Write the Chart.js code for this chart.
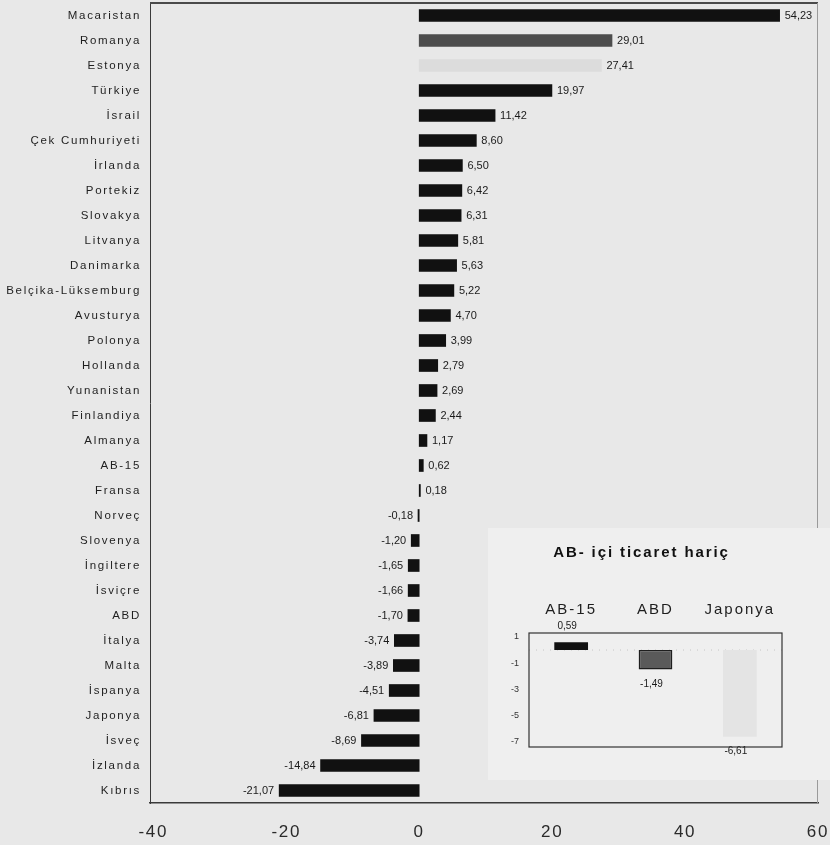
<!DOCTYPE html>
<html>
<head>
<meta charset="utf-8">
<script src="https://cdn.jsdelivr.net/npm/chart.js@4/dist/chart.umd.min.js"></script>
<style>
  body { margin: 0; background: #e8e8e8; }
  #wrap { position: relative; width: 830px; height: 845px; }
  #mainChart { position: absolute; left: 0; top: 0; }
  #insetChart { position: absolute; left: 488px; top: 528px; background: #efefef; }
</style>
</head>
<body>
<div id="wrap">
  <canvas id="mainChart" width="830" height="845"></canvas>
  <canvas id="insetChart" width="342" height="252"></canvas>
</div>
<script>
// ülkeler ve değişim oranları (%)
var ulkeler = ["Macaristan", "Romanya", "Estonya", "Türkiye", "İsrail", "Çek Cumhuriyeti", "İrlanda",
  "Portekiz", "Slovakya", "Litvanya", "Danimarka", "Belçika-Lüksemburg", "Avusturya", "Polonya",
  "Hollanda", "Yunanistan", "Finlandiya", "Almanya", "AB-15", "Fransa", "Norveç", "Slovenya",
  "İngiltere", "İsviçre", "ABD", "İtalya", "Malta", "İspanya", "Japonya", "İsveç", "İzlanda", "Kıbrıs"];
var degerler = [54.23, 29.01, 27.41, 19.97, 11.42, 8.60, 6.50, 6.42, 6.31, 5.81, 5.63, 5.22, 4.70, 3.99,
  2.79, 2.69, 2.44, 1.17, 0.62, 0.18, -0.18, -1.20, -1.65, -1.66, -1.70, -3.74, -3.89, -4.51,
  -6.81, -8.69, -14.84, -21.07];
var xTikler = [-40, -20, 0, 20, 40, 60];
var renkler = ulkeler.map(function (u) {
  if (u === "Romanya") return "#4d4d4d";
  if (u === "Estonya") return "#dcdcdc";
  return "#111111";
});

// AB-içi ticaret hariç
var icBaslik = "AB- içi ticaret hariç";
var icKategoriler = ["AB-15", "ABD", "Japonya"];
var icDegerler = [0.59, -1.49, -6.61];
var icRenkler = ["#111111", "#5a5a5a", "#e4e4e4"];
var icTikler = [1, -1, -3, -5, -7];

var yaziTipi = "'Liberation Sans', Arial, sans-serif";

function virgul(v) {
  return v.toFixed(2).replace(".", ",");
}

// harf aralığı: eksen yazıları geniş aralıklı
var harfAraligi = {
  id: "harfAraligi",
  beforeDraw: function (chart) { chart.ctx.letterSpacing = "1.7px"; },
  beforeDatasetsDraw: function (chart) { chart.ctx.letterSpacing = "0px"; }
};

var yatayEtiket = {
  id: "yatayEtiket",
  afterDatasetsDraw: function (chart) {
    var ctx = chart.ctx;
    var meta = chart.getDatasetMeta(0);
    var data = chart.data.datasets[0].data;
    ctx.save();
    ctx.font = "11px " + yaziTipi;
    ctx.fillStyle = "#1a1a1a";
    ctx.textBaseline = "middle";
    meta.data.forEach(function (bar, i) {
      var v = data[i];
      if (v >= 0) {
        ctx.textAlign = "left";
        ctx.fillText(virgul(v), bar.x + 5, bar.y);
      } else {
        ctx.textAlign = "right";
        ctx.fillText(virgul(v), bar.x - 5, bar.y);
      }
    });
    ctx.restore();
  }
};

var cerceve = {
  id: "cerceve",
  afterDraw: function (chart) {
    var a = chart.chartArea;
    var ctx = chart.ctx;
    ctx.save();
    ctx.strokeStyle = "#4a4a4a";
    ctx.lineWidth = 2;
    ctx.beginPath();
    ctx.moveTo(a.left, a.top);
    ctx.lineTo(a.right, a.top);
    ctx.stroke();
    ctx.strokeStyle = "#9a9a9a";
    ctx.lineWidth = 1;
    ctx.beginPath();
    ctx.moveTo(a.right - 0.5, a.top);
    ctx.lineTo(a.right - 0.5, a.bottom);
    ctx.stroke();
    ctx.restore();
  }
};

new Chart(document.getElementById("mainChart"), {
  type: "bar",
  data: {
    labels: ulkeler,
    datasets: [{
      data: degerler,
      backgroundColor: renkler,
      barThickness: 12
    }]
  },
  options: {
    indexAxis: "y",
    responsive: false,
    animation: false,
    layout: { padding: { left: 0, top: 3, right: 12, bottom: 2 } },
    plugins: { legend: { display: false }, tooltip: { enabled: false } },
    scales: {
      x: {
        type: "linear",
        min: -40.5,
        max: 60,
        grid: { display: false, drawTicks: false },
        border: { display: true, color: "#3a3a3a", width: 1.5 },
        afterFit: function (s) { s.height = 40; s.paddingLeft = 0; s.paddingRight = 0; },
        afterBuildTicks: function (s) {
          s.ticks = xTikler.map(function (v) { return { value: v }; });
        },
        ticks: {
          padding: 19,
          color: "#2a2a2a",
          font: { family: yaziTipi, size: 17 }
        }
      },
      y: {
        grid: { display: false, drawTicks: false },
        border: { display: true, color: "#3a3a3a", width: 1 },
        afterFit: function (s) { s.width = 150; s.paddingTop = 0; s.paddingBottom = 0; },
        ticks: {
          padding: 9,
          autoSkip: false,
          color: "#1e1e1e",
          font: { family: yaziTipi, size: 11.5 }
        }
      }
    }
  },
  plugins: [harfAraligi, yatayEtiket, cerceve]
});

var dikeyEtiket = {
  id: "dikeyEtiket",
  beforeDraw: function (chart) { chart.ctx.letterSpacing = "0px"; },
  afterDatasetsDraw: function (chart) {
    var ctx = chart.ctx;
    var meta = chart.getDatasetMeta(0);
    var data = chart.data.datasets[0].data;
    ctx.save();
    ctx.font = "10px " + yaziTipi;
    ctx.fillStyle = "#1a1a1a";
    ctx.textAlign = "center";
    meta.data.forEach(function (bar, i) {
      var v = data[i];
      if (v >= 0) {
        ctx.textBaseline = "bottom";
        ctx.fillText(virgul(v), bar.x - 4, bar.y - 11);
      } else {
        ctx.textBaseline = "top";
        ctx.fillText(virgul(v), bar.x - 4, bar.y + 10);
      }
    });
    ctx.restore();
    // üstteki kategori yazıları (ticks.z: 1) aralıklı çizilsin
    ctx.letterSpacing = "2px";
  },
  afterDraw: function (chart) {
    var a = chart.chartArea;
    var ctx = chart.ctx;
    ctx.save();
    ctx.strokeStyle = "#333333";
    ctx.lineWidth = 1.2;
    ctx.strokeRect(a.left, a.top, a.right - a.left, a.bottom - a.top);
    ctx.letterSpacing = "1.9px";
    ctx.font = "bold 15px " + yaziTipi;
    ctx.fillStyle = "#111111";
    ctx.textAlign = "center";
    ctx.textBaseline = "middle";
    ctx.fillText(icBaslik, (a.left + a.right) / 2 - 14, 25);
    ctx.restore();
    ctx.letterSpacing = "0px";
  }
};

var sifirCizgisi = {
  id: "sifirCizgisi",
  beforeDatasetsDraw: function (chart) {
    var a = chart.chartArea;
    var ctx = chart.ctx;
    var y0 = chart.scales.y.getPixelForValue(0);
    ctx.save();
    ctx.strokeStyle = "rgba(0,0,0,0.18)";
    ctx.setLineDash([1, 6]);
    ctx.beginPath();
    ctx.moveTo(a.left, y0);
    ctx.lineTo(a.right, y0);
    ctx.stroke();
    ctx.restore();
  }
};

new Chart(document.getElementById("insetChart"), {
  type: "bar",
  data: {
    labels: icKategoriler,
    datasets: [{
      data: icDegerler,
      backgroundColor: icRenkler,
      borderColor: ["#111111", "#1e1e1e", "#e4e4e4"],
      borderWidth: [0, 1.5, 0],
      borderSkipped: false,
      barPercentage: 0.4,
      categoryPercentage: 1
    }]
  },
  options: {
    responsive: false,
    animation: false,
    layout: { padding: { left: 0, top: 44, right: 48, bottom: 33 } },
    plugins: {
      legend: { display: false },
      tooltip: { enabled: false }
    },
    scales: {
      x: {
        position: "top",
        grid: { display: false, drawTicks: false },
        border: { display: false },
        afterFit: function (s) { s.height = 61; s.paddingLeft = 0; s.paddingRight = 0; },
        ticks: {
          z: 1,
          padding: 14,
          color: "#1e1e1e",
          font: { family: yaziTipi, size: 15 }
        }
      },
      y: {
        min: -7.4,
        max: 1.3,
        grid: { display: false, drawTicks: false },
        border: { display: false },
        afterFit: function (s) { s.width = 41; s.paddingTop = 0; s.paddingBottom = 0; },
        afterBuildTicks: function (s) {
          s.ticks = icTikler.map(function (v) { return { value: v }; });
        },
        ticks: {
          padding: 10,
          color: "#333333",
          font: { family: yaziTipi, size: 9 }
        }
      }
    }
  },
  plugins: [sifirCizgisi, dikeyEtiket]
});
</script>
</body>
</html>
